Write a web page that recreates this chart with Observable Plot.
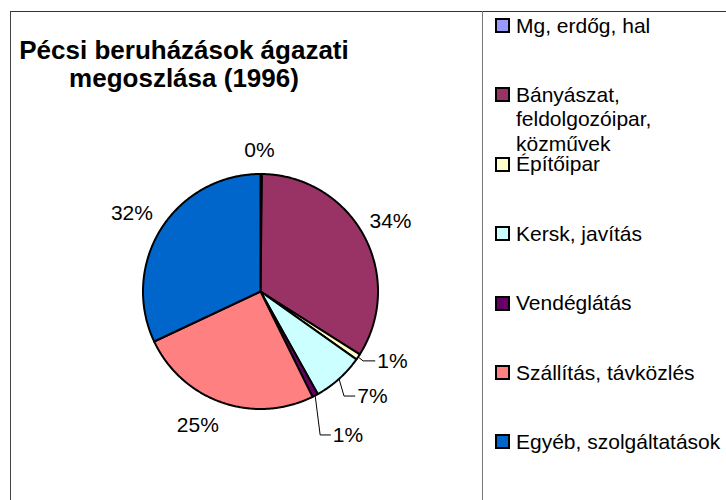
<!DOCTYPE html>
<html>
<head>
<meta charset="utf-8">
<script src="https://cdn.jsdelivr.net/npm/d3@7"></script>
<script src="https://cdn.jsdelivr.net/npm/@observablehq/plot@0.6"></script>
<style>
  html, body { margin: 0; padding: 0; background: #fff; }
  #wrap { position: relative; width: 726px; height: 500px; overflow: hidden;
          font-family: "Liberation Sans", Arial, sans-serif; color: #000; }
  #chart { position: absolute; left: 0; top: 0; }
  .line-top { position: absolute; left: 11px; top: 11px; width: 715px; height: 0; border-top: 1.5px solid #333; }
  .line-left { position: absolute; left: 10px; top: 11px; width: 0; height: 489px; border-left: 1.5px solid #444; }
  .line-div { position: absolute; left: 482px; top: 11px; width: 0; height: 489px; border-left: 1.5px solid #777; }
  #title { position: absolute; left: 0; width: 368px; top: 36px; text-align: center;
           font-weight: bold; font-size: 26px; line-height: 28px; }
  .leg { position: absolute; left: 495px; width: 231px; font-size: 21px; line-height: 24.5px; }
  .leg .sw { position: absolute; left: 0; top: 4.5px; width: 11px; height: 11px; border: 2px solid #000; }
  .leg .tx { margin-left: 21px; width: 215px; }
</style>
</head>
<body>
<div id="wrap">
  <div id="chart"></div>
  <div class="line-top"></div>
  <div class="line-left"></div>
  <div class="line-div"></div>
  <div id="title">Pécsi beruházások ágazati<br>megoszlása (1996)</div>
  <div id="legend"></div>
</div>
<script>
// ---- data ----
const categories = [
  "Mg, erdőg, hal",
  "Bányászat, feldolgozóipar, közművek",
  "Építőipar",
  "Kersk, javítás",
  "Vendéglátás",
  "Szállítás, távközlés",
  "Egyéb, szolgáltatások"
];
const shares = [0.2, 33.8, 0.8, 7.1, 0.8, 25.3, 32.0];
const colors = ["#9999FF", "#993366", "#FFFFCC", "#CCFFFF", "#660066", "#FF8080", "#0066CC"];
const pctLabels = ["0%", "34%", "1%", "7%", "1%", "25%", "32%"];

// ---- layout (not data) ----
const pxPerUnit = 117.5;           // pie radius in px
const labelFont = 21;
const labelGap = 0.136;            // radial gap of labels, in radii
const labelNudge = [[-2, 0], [-5, -3], [9, -9.4], [13, -0.7], [18.7, 18.2], [-12, 0], [1, -2]];
const hasLeader = [false, false, true, true, true, false, false];

// ---- slices ----
const total = d3.sum(shares);
let acc = 0;
const slices = categories.map((c, i) => {
  const a0 = acc / total * 2 * Math.PI;
  acc += shares[i];
  const a1 = acc / total * 2 * Math.PI;
  return {c, i, a0, a1, mid: (a0 + a1) / 2};
});

const pts = [];
for (const s of slices) {
  pts.push({c: s.c, x: 0, y: 0});
  const n = Math.max(2, Math.ceil((s.a1 - s.a0) / (Math.PI / 360)));
  for (let k = 0; k <= n; k++) {
    const a = s.a0 + (s.a1 - s.a0) * k / n;
    pts.push({c: s.c, x: Math.sin(a), y: -Math.cos(a)});
  }
  pts.push({c: s.c, x: 0, y: 0});
}

// ---- labels ----
const textW = s => 20 * (0.556 * (s.length - 1) + 0.889);
const labels = slices.map(s => {
  const t = pctLabels[s.i];
  const sn = Math.sin(s.mid), cs = Math.cos(s.mid);
  const w = textW(t), h = 16;
  const ax = sn * (1 + labelGap), ay = -cs * (1 + labelGap);
  const x = ax + (sn * w / 2 + labelNudge[s.i][0]) / pxPerUnit;
  const y = ay + (-cs * h / 2 + labelNudge[s.i][1]) / pxPerUnit;
  return {t, x, y, w: labelFont * (0.556 * (t.length - 1) + 0.889), i: s.i, sn, cs};
});
const leaders = [];
for (const l of labels) {
  if (!hasLeader[l.i]) continue;
  const sx = l.sn, sy = -l.cs;
  const ex = l.x - (l.w / 2 + 2) / pxPerUnit;
  leaders.push({k: l.i, x: sx, y: sy});
  leaders.push({k: l.i, x: sx + 5 / pxPerUnit, y: l.y});
  leaders.push({k: l.i, x: ex, y: l.y});
}

const cx = 260, cy = 291;
const chart = Plot.plot({
  width: 726,
  height: 500,
  x: {domain: [-1, 1], range: [cx - pxPerUnit, cx + pxPerUnit], axis: null},
  y: {domain: [-1, 1], range: [cy - pxPerUnit, cy + pxPerUnit], axis: null},
  color: {domain: categories, range: colors},
  style: {fontFamily: '"Liberation Sans", Arial, sans-serif', background: "transparent", overflow: "visible"},
  marks: [
    Plot.line(pts, {x: "x", y: "y", z: "c", fill: "c", stroke: "#000", strokeWidth: 2,
                    strokeLinejoin: "round", curve: "linear"}),
    Plot.line(leaders, {x: "x", y: "y", z: "k", stroke: "#000", strokeWidth: 1,
                        strokeLinejoin: "miter", strokeLinecap: "butt"}),
    Plot.text(labels, {x: "x", y: "y", text: "t", fontSize: labelFont, fill: "#000", textAnchor: "middle"})
  ]
});
document.getElementById("chart").appendChild(chart);

// ---- legend ----
const legend = document.getElementById("legend");
const legTop0 = 25.5, legStep = 69.4;
categories.forEach((c, i) => {
  const d = document.createElement("div");
  d.className = "leg";
  d.style.top = (legTop0 + i * legStep - 12) + "px";
  const sw = document.createElement("div");
  sw.className = "sw";
  sw.style.background = colors[i];
  const tx = document.createElement("div");
  tx.className = "tx";
  tx.textContent = c;
  d.appendChild(sw);
  d.appendChild(tx);
  legend.appendChild(d);
});
</script>
</body>
</html>
